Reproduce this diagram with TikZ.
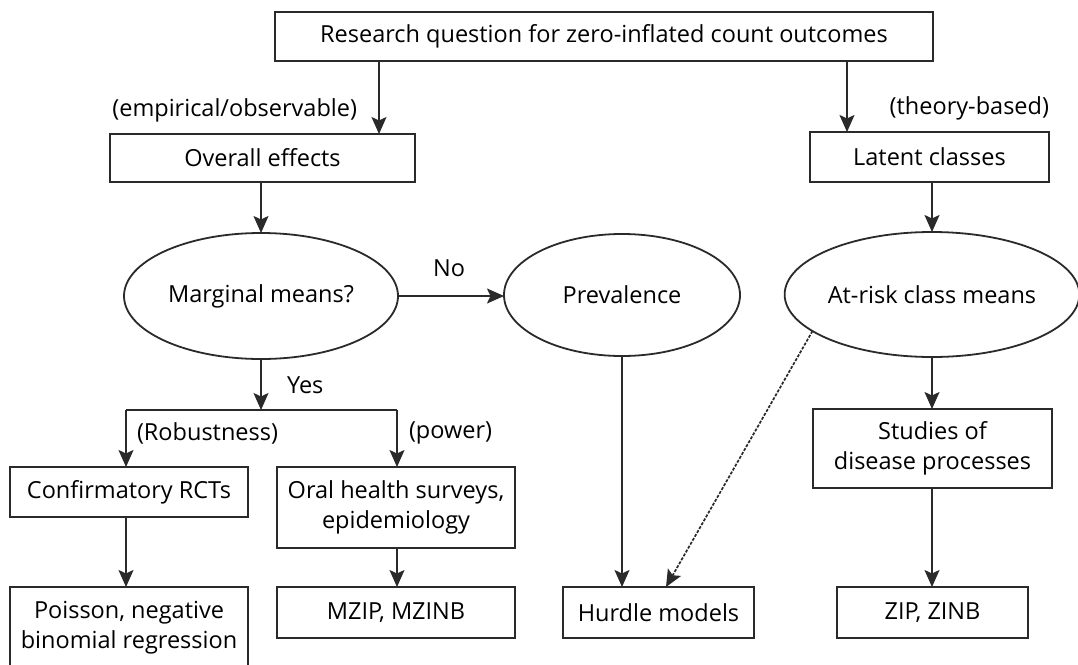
\documentclass[tikz,border=0pt]{standalone}
\usepackage{fontspec}
\setmainfont{Open Sans}
\usetikzlibrary{shapes.geometric,arrows.meta}
\begin{document}
\begin{tikzpicture}[x=1pt,y=-1pt,
  font=\fontsize{23.5}{30}\selectfont,
  every node/.style={inner sep=0pt,outer sep=0pt},
  box/.style={draw=lc,line width=1.8pt,rectangle,align=center},
  oval/.style={draw=lc,line width=1.8pt,ellipse,align=center},
  lbl/.style={text=black},
  arr/.style={draw=lc,line width=1.8pt,-{Stealth[length=17pt,width=15pt,inset=3.5pt]}},
  ln/.style={draw=lc,line width=1.8pt},
  dotarr/.style={draw=lc,line width=1.7pt,dash pattern=on 3pt off 1.5pt,-{Stealth[length=17pt,width=15pt,inset=3.5pt]}}
]
\definecolor{lc}{HTML}{2A2A2A}
\useasboundingbox (0,0) rectangle (1078,664);
\fill[white] (0,0) rectangle (1078,664);

% nodes
\node[box,minimum width=658pt,minimum height=49pt] (top) at (604,36.5) {Research question for zero-inflated count outcomes};
\node[box,minimum width=305pt,minimum height=48pt] (ov) at (262.5,158) {Overall effects};
\node[box,minimum width=239pt,minimum height=50pt] (lat) at (929.5,157) {Latent classes};
\node[oval,minimum width=274pt,minimum height=126pt] (mm) at (261,296) {Marginal means?};
\node[oval,minimum width=236pt,minimum height=122pt] (prev) at (622,295) {Prevalence};
\node[oval,minimum width=276pt,minimum height=125pt] (ar) at (932,294.5) {At-risk class means};
\node[box,minimum width=238pt,minimum height=50pt] (conf) at (129,492) {Confirmatory RCTs};
\node[box,minimum width=238pt,minimum height=81pt] (oral) at (396,507.5) {Oral health surveys,\\epidemiology};
\node[box,minimum width=238pt,minimum height=82pt] (pois) at (129,628) {Poisson, negative\\binomial regression};
\node[box,minimum width=238pt,minimum height=51pt] (mzip) at (396,612.5) {MZIP, MZINB};
\node[box,minimum width=191pt,minimum height=51pt] (hurdle) at (658.5,612.5) {Hurdle models};
\node[box,minimum width=239pt,minimum height=79pt] (stud) at (932.5,448.5) {Studies of\\disease processes};
\node[box,minimum width=191pt,minimum height=51pt] (zip) at (932.5,612.5) {ZIP, ZINB};

% labels
\node[lbl,anchor=east] (lemp) at (357,110) {(empirical/observable)};
\node[lbl,anchor=east] (lthe) at (1049,108) {(theory-based)};
\node[lbl] (lno) at (449,268) {No};
\node[lbl,anchor=west] (lyes) at (287,385) {Yes};
\node[lbl,anchor=west] (lrob) at (137,433) {(Robustness)};
\node[lbl,anchor=west] (lpow) at (409,433) {(power)};

% coordinates for the split
\coordinate (sp) at (mm.south |- 0,410);
\coordinate (spl) at (126,410);
\coordinate (spr) at (397,410);
\coordinate (tl) at (379,0);
\coordinate (tr) at (847,0);

% connectors
\draw[arr] (top.south -| tl) -- (ov.north -| tl);
\draw[arr] (top.south -| tr) -- (lat.north -| tr);
\draw[arr] (ov.south -| mm.north) -- (mm.north);
\draw[arr] (lat.south -| ar.north) -- (ar.north);
\draw[arr] (mm.east) -- (mm.east -| prev.west);
\draw[arr] (mm.south) -- (sp);
\draw[ln] (spl) -- (spr);
\draw[arr] (spl) -- (spl |- conf.north);
\draw[arr] (spr) -- (spr |- oral.north);
\draw[arr] (conf.south -| spl) -- (pois.north -| spl);
\draw[arr] (oral.south -| spr) -- (mzip.north -| spr);
\draw[arr] (prev.south) -- (prev.south |- hurdle.north);
\draw[dotarr] (ar.197) -- ([xshift=7.5pt]hurdle.north);
\draw[arr] (ar.south) -- (ar.south |- stud.north);
\draw[arr] (stud.south -| ar.south) -- (ar.south |- zip.north);
\end{tikzpicture}
\end{document}
